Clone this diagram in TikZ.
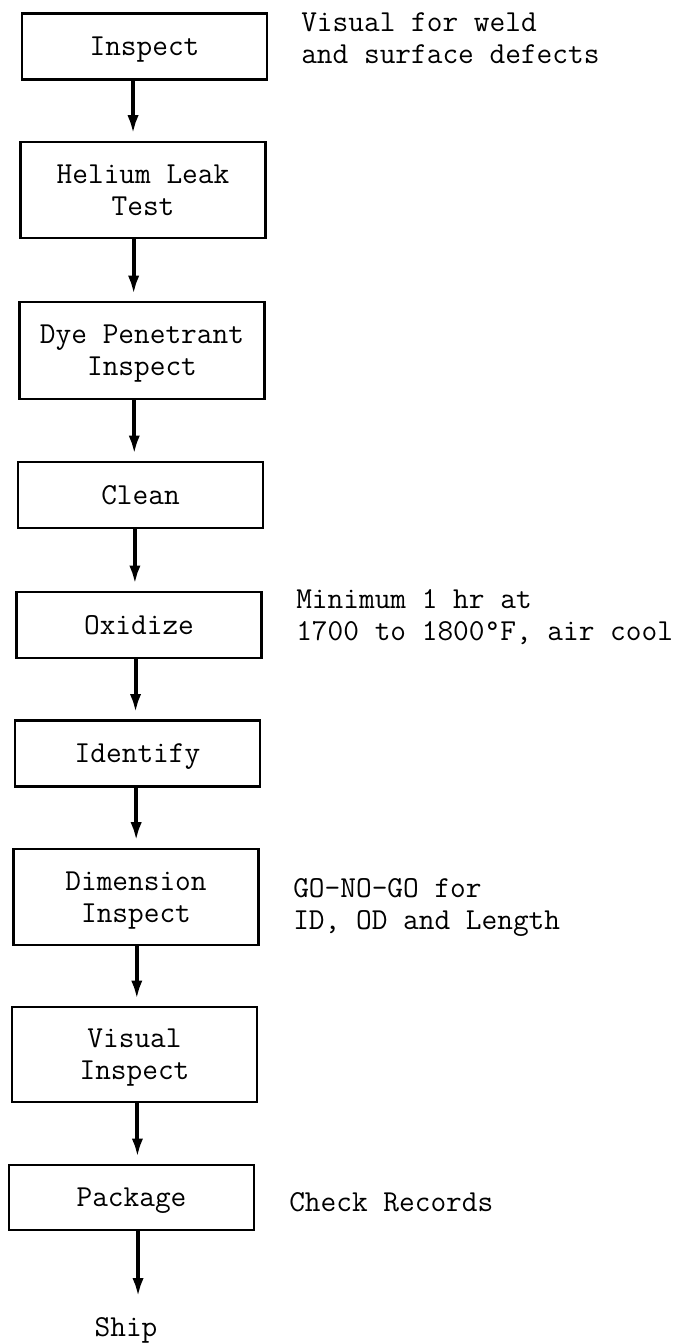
\documentclass[tikz,border=0pt]{standalone}
\usepackage{fontspec}
\setmonofont{Latin Modern Mono}
\usetikzlibrary{arrows.meta}
\begin{document}
\begin{tikzpicture}[x=0.75pt,y=-0.75pt,
  font=\ttfamily\fontsize{22.86pt}{24pt}\selectfont,
  stepbox/.style={draw, line width=1.7pt, minimum width=183.75pt, inner sep=0pt,
    align=center, text depth=0pt},
  short/.style={minimum height=49.5pt},
  tall/.style={minimum height=72.5pt},
  flow/.style={-{Latex[length=14pt,width=8.5pt]}, line width=3pt, shorten >=5pt},
  note/.style={anchor=west, align=left, inner sep=0pt}]
\useasboundingbox (0,0) rectangle (681,1344);
\node[stepbox,short] (inspect)   at (144.5,46.5) {Inspect};
\node[stepbox,tall]  (helium)    at (143,190)    {Helium Leak\\Test};
\node[stepbox,tall]  (dye)       at (142,350.5)  {Dye Penetrant\\Inspect};
\node[stepbox,short] (clean)     at (140.5,495)  {Clean};
\node[stepbox,short] (oxidize)   at (139,625)    {Oxidize};
\node[stepbox,short] (identify)  at (137.5,753.5){Identify};
\node[stepbox,tall]  (dimension) at (136,897)    {Dimension\\Inspect};
\node[stepbox,tall, minimum height=71.25pt] (visual) at (134.5,1054.5) {Visual\\Inspect};
\node[stepbox,short, minimum height=48.75pt] (package) at (131.5,1197.5) {Package};
\node[anchor=base, inner sep=0pt] (ship) at (126,1336) {Ship};

\node[note] (n1) at (301,38)   {Visual for weld\\and surface defects};
\node[note] (n2) at (296,617)  {Minimum 1 hr at\\1700 to 1800°F, air cool};
\node[note] (n3) at (293,907)  {GO-NO-GO for\\ID, OD and Length};
\node[note] (n4) at (289,1202) {Check Records};

\draw[flow] ([xshift=-8.6pt]inspect.south)  -- ([xshift=-8.6pt]inspect.south |- helium.north);
\draw[flow] ([xshift=-7pt]helium.south)     -- ([xshift=-7pt]helium.south |- dye.north);
\draw[flow] ([xshift=-5.8pt]dye.south)      -- ([xshift=-5.8pt]dye.south |- clean.north);
\draw[flow] ([xshift=-4.2pt]clean.south)    -- ([xshift=-4.2pt]clean.south |- oxidize.north);
\draw[flow] ([xshift=-2.6pt]oxidize.south)  -- ([xshift=-2.6pt]oxidize.south |- identify.north);
\draw[flow] ([xshift=-1pt]identify.south)   -- ([xshift=-1pt]identify.south |- dimension.north);
\draw[flow] ([xshift=0.6pt]dimension.south) -- ([xshift=0.6pt]dimension.south |- visual.north);
\draw[flow] ([xshift=2.2pt]visual.south)    -- ([xshift=2.2pt]visual.south |- package.north);
\draw[flow, shorten >=15pt] ([xshift=4.9pt]package.south) -- ([xshift=4.9pt]package.south |- ship.north);
\end{tikzpicture}
\end{document}
